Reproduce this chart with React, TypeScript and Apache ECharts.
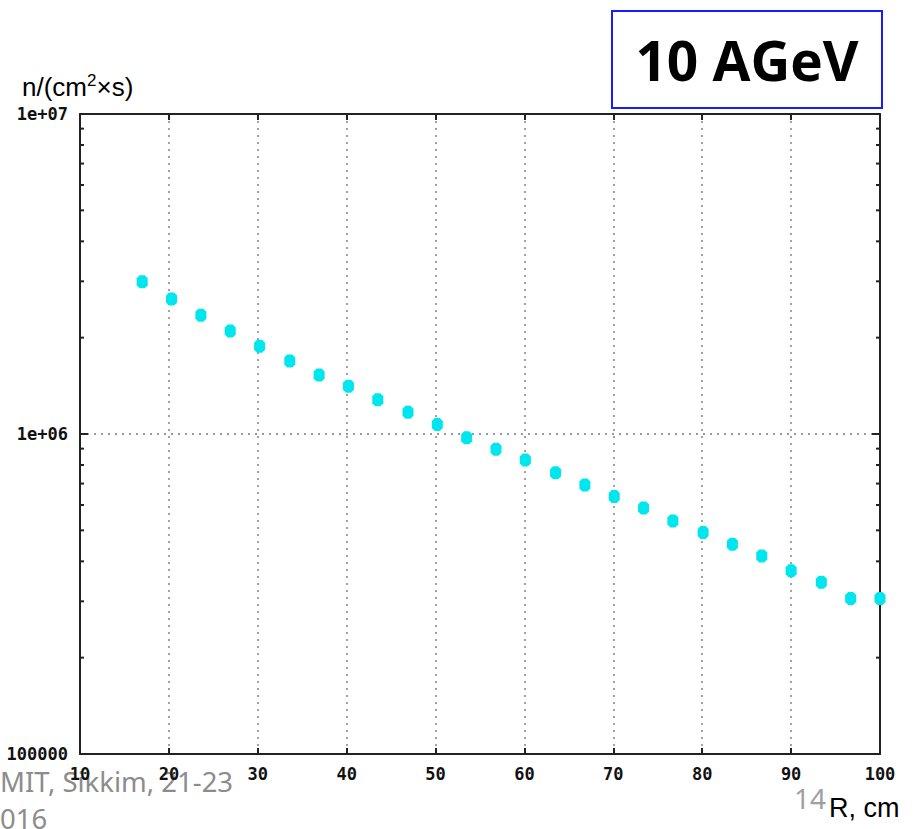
import React, { useEffect, useRef } from "react";
import * as echarts from "echarts";

// R, cm
const radius = [
  17.0, 20.3, 23.6, 26.9, 30.2, 33.6, 36.9, 40.2, 43.5, 46.9, 50.2, 53.5, 56.8,
  60.1, 63.5, 66.8, 70.1, 73.4, 76.7, 80.1, 83.4, 86.7, 90.0, 93.4, 96.7, 100.0,
];
// n/(cm^2 x s)
const flux = [
  2.99e6, 2.64e6, 2.35e6, 2.1e6, 1.88e6, 1.69e6, 1.53e6, 1.41e6, 1.28e6, 1.17e6,
  1.07e6, 9.74e5, 8.96e5, 8.29e5, 7.57e5, 6.93e5, 6.38e5, 5.87e5, 5.35e5,
  4.92e5, 4.52e5, 4.16e5, 3.74e5, 3.44e5, 3.06e5, 3.06e5,
];
const yTickValues = [1e5, 1e6, 1e7];
const yTickLabels = ["100000", "1e+06", "1e+07"];
const yMinorTicks = [
  2e5, 3e5, 4e5, 5e5, 6e5, 7e5, 8e5, 9e5, 2e6, 3e6, 4e6, 5e6, 6e6, 7e6, 8e6, 9e6,
];
const xMin = 10;
const xMax = 100;
const xStep = 10;

const AXIS = "#222";
const tickFont = {
  fontFamily: "DejaVu Sans Mono",
  fontWeight: "bold" as const,
  fontSize: 17,
  color: "#111",
};
const gridLine = { show: true, lineStyle: { type: [2, 5] as any, color: "#999", width: 1.8 } };

export default function App() {
  const ref = useRef<HTMLDivElement>(null);
  useEffect(() => {
    if (!ref.current) return;
    const chart = echarts.init(ref.current, null, { renderer: "svg" });
    const octagon = "path://M3,0 L8,0 L11,3 L11,10 L8,13 L3,13 L0,10 L0,3 Z";
    chart.setOption({
      animation: false,
      backgroundColor: "#fff",
      grid: { left: 80, right: 34, top: 114, bottom: 75 },
      xAxis: [
        {
          type: "value",
          position: "bottom",
          min: xMin,
          max: xMax,
          interval: xStep,
          axisLine: { show: true, lineStyle: { color: AXIS, width: 2 } },
          axisTick: { show: true, inside: true, length: 6, lineStyle: { color: AXIS, width: 2 } },
          axisLabel: { ...tickFont, margin: 11 },
          splitLine: gridLine,
        },
        {
          type: "value",
          position: "top",
          min: xMin,
          max: xMax,
          interval: xStep,
          axisLine: { show: true, onZero: false, lineStyle: { color: AXIS, width: 2 } },
          axisTick: { show: true, inside: true, length: 6, lineStyle: { color: AXIS, width: 2 } },
          axisLabel: { show: false },
          splitLine: { show: false },
        },
      ],
      yAxis: [
        {
          type: "log",
          logBase: 10,
          position: "left",
          min: yTickValues[0],
          max: yTickValues[2],
          axisLine: { show: true, onZero: false, lineStyle: { color: AXIS, width: 2 } },
          axisTick: { show: true, inside: true, length: 8, lineStyle: { color: AXIS, width: 2 } },
          axisLabel: {
            ...tickFont,
            margin: 12,
            formatter: (v: number) => {
              const i = yTickValues.findIndex((t) => Math.abs(t - v) / t < 1e-6);
              return i >= 0 ? yTickLabels[i] : "";
            },
          },
          splitLine: gridLine,
        },
        {
          type: "log",
          logBase: 10,
          position: "right",
          min: yTickValues[0],
          max: yTickValues[2],
          axisLine: { show: true, onZero: false, lineStyle: { color: AXIS, width: 2 } },
          axisTick: { show: true, inside: true, length: 8, lineStyle: { color: AXIS, width: 2 } },
          axisLabel: { show: false },
          splitLine: { show: false },
        },
      ],
      series: [
        {
          type: "custom",
          xAxisIndex: 0,
          yAxisIndex: 0,
          silent: true,
          clip: false,
          data: yMinorTicks.map((v) => [xMin, v]),
          renderItem: (params: any, api: any) => {
            const v = api.value(1);
            const l = api.coord([xMin, v]);
            const r = api.coord([xMax, v]);
            return {
              type: "group",
              children: [
                { type: "line", shape: { x1: l[0], y1: l[1], x2: l[0] + 4, y2: l[1] }, style: { stroke: AXIS, lineWidth: 2 } },
                { type: "line", shape: { x1: r[0], y1: r[1], x2: r[0] - 4, y2: r[1] }, style: { stroke: AXIS, lineWidth: 2 } },
              ],
            };
          },
        },
        {
          type: "scatter",
          xAxisIndex: 0,
          yAxisIndex: 0,
          clip: false,
          symbol: octagon,
          symbolSize: [11, 13],
          itemStyle: { color: "#00e6ee", opacity: 1 },
          data: radius.map((r, i) => [r, flux[i]]),
          z: 5,
        },
      ],
      graphic: [
        {
          type: "rect",
          shape: { x: 612, y: 11, width: 270, height: 97 },
          style: { fill: "#fff", stroke: "#1a1aff", lineWidth: 2 },
        },
        {
          type: "text",
          x: 747,
          y: 59,
          style: {
            text: "10 AGeV",
            fontFamily: "Open Sans",
            fontWeight: "bold",
            fontSize: 55,
            fill: "#000",
            align: "center",
            verticalAlign: "middle",
          },
        },
        {
          type: "text",
          x: 22,
          y: 86,
          style: {
            text: "{a|n/(cm}{s|2}{a|×s)}",
            verticalAlign: "middle",
            rich: {
              a: { fontFamily: "Liberation Sans", fontSize: 26, fill: "#000", lineHeight: 28, verticalAlign: "bottom" },
              s: { fontFamily: "Liberation Sans", fontSize: 17, fill: "#000", lineHeight: 28, verticalAlign: "top" },
            },
          },
        },
        {
          type: "text",
          x: 0,
          y: 781,
          style: {
            text: "MIT, Sikkim, 21-23",
            fontFamily: "Noto Sans",
            fontSize: 27.5,
            fill: "#8c8c8c",
            verticalAlign: "middle",
          },
        },
        {
          type: "text",
          x: 0,
          y: 818,
          style: { text: "016", fontFamily: "Noto Sans", fontSize: 27.5, fill: "#8c8c8c", verticalAlign: "middle" },
        },
        {
          type: "text",
          x: 794,
          y: 798,
          style: { text: "14", fontFamily: "Noto Sans", fontSize: 28, fill: "#a0a0a0", verticalAlign: "middle" },
        },
        {
          type: "text",
          x: 829,
          y: 808,
          style: { text: "R, cm", fontFamily: "Liberation Sans", fontSize: 27, fill: "#000", verticalAlign: "middle" },
        },
      ],
    });
    return () => chart.dispose();
  }, []);
  return (
    <div
      ref={ref}
      style={{ position: "absolute", left: 0, top: 0, width: 914, height: 829 }}
    />
  );
}
